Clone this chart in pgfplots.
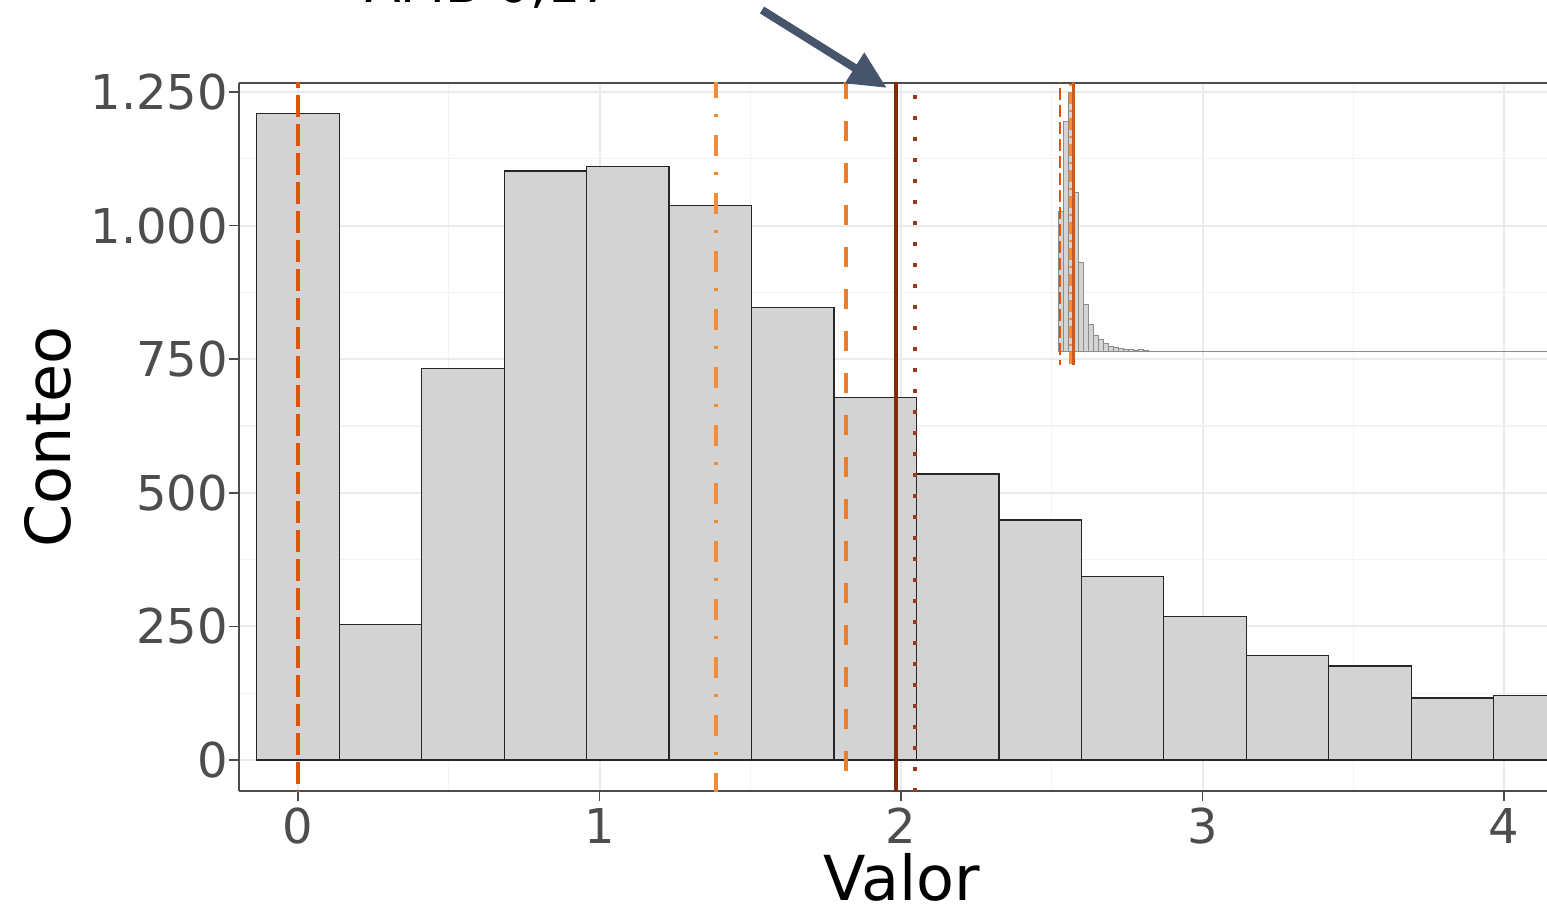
\documentclass[border=0pt]{standalone}
\usepackage{pgfplots}
\pgfplotsset{compat=1.18}
\usepackage{fontspec}
\setmainfont{DejaVu Sans}
\usetikzlibrary{arrows.meta}

\definecolor{barfill}{HTML}{D3D3D3}
\definecolor{ticktext}{HTML}{4D4D4D}
\definecolor{gridmaj}{HTML}{EBEBEB}
\definecolor{gridmin}{HTML}{F3F3F3}
\definecolor{lzero}{HTML}{DD540F}
\definecolor{ldotdash}{HTML}{F28C38}
\definecolor{ldash}{HTML}{EE7D2A}
\definecolor{lsolid}{HTML}{86290A}
\definecolor{ldot}{HTML}{99391C}
\definecolor{arrowcol}{HTML}{46556B}
\definecolor{insetline}{HTML}{D0581A}

% histogram of the values (left bin edges, counts)
\pgfplotstableread{
x        y
-0.1368  1209
0.1367   254
0.4102   732
0.6837   1102
0.9572   1111
1.2307   1038
1.5042   846
1.7777   679
2.0512   535
2.3247   449
2.5982   344
2.8717   269
3.1452   195
3.4187   176
3.6922   116
3.9657   120
4.2392   120
}\histdata

% small overview histogram of the full range (local units)
\pgfplotstableread{
x   y
0   140
5   230
10  259
15  159
20  89
25  47
30  27
35  16
40  12
45  8
50  5
55  4
60  3.3
65  2.7
70  2.3
75  1.7
80  2.3
85  1
90  0.8
95  0.6
100 0.5
105 0.6
110 0.4
115 0.3
120 0.3
125 0.2
130 0.4
135 0.2
140 0.3
145 0.2
150 0
155 0.3
160 0.2
165 0
170 0.3
175 0
180 0.2
185 0.3
190 0
195 0.2
200 0
205 0.2
210 0
215 0.2
220 0
225 0
230 0.2
235 0
240 0
245 0.2
250 0
255 0
260 0
265 0
270 0.2
275 0
280 0
285 0
290 0
295 0
300 0
305 0
310 0
315 0
320 0
325 0
330 0
335 0
340 0
345 0
350 0
355 0
360 0
365 0
370 0
375 0
380 0
385 0.3
390 0
395 0
400 0
405 0
410 0
415 0
420 0
425 0
430 0
435 0
440 0
445 0.3
450 0.3
455 0
460 0
465 0
470 0.2
475 0.3
480 0.2
485 0
490 0
}\insetdata

\begin{document}
\begin{tikzpicture}
\begin{axis}[
  name=ax,
  scale only axis,
  width=654pt, height=354pt,
  xmin=-0.1957, xmax=4.1426,
  ymin=-58, ymax=1266.8,
  axis x line*=box, axis y line*=left,
  axis line style={draw=black!70, line width=0.8pt},
  xtick={0,1,2,3,4},
  ytick={0,250,500,750,1000,1250},
  yticklabels={0,250,500,750,1.000,1.250},
  minor xtick={0.5,1.5,2.5,3.5},
  minor ytick={125,375,625,875,1125},
  grid=both,
  major grid style={draw=gridmaj, line width=1pt},
  minor grid style={draw=gridmin, line width=0.6pt},
  tick align=outside,
  xtick pos=bottom, ytick pos=left,
  major tick length=5pt, minor tick length=0pt,
  tick style={draw=black!70, line width=0.8pt},
  tick label style={font=\fontsize{24}{28}\selectfont, text=ticktext},
  yticklabel style={xshift=3pt},
  /pgf/number format/assume math mode=true,
  xlabel={Valor}, ylabel={Conteo},
  label style={font=\fontsize{31}{36}\selectfont, text=black},
  xlabel style={at={(axis description cs:0.5065,-0.154)}, anchor=base},
  ylabel style={at={(axis description cs:-0.1292,0.5)}, anchor=base},
]
\addplot[ybar interval, fill=barfill, draw=black!85, line width=0.6pt]
  table[x=x, y=y] {\histdata};

% reference lines
\addplot[lzero, line width=2.4pt, dash pattern=on 11pt off 3.5pt]
  coordinates {(0,-100) (0,1400)};
\addplot[ldotdash, line width=2pt, dash pattern=on 1.5pt off 8pt on 10.5pt off 9pt]
  coordinates {(1.386,-100) (1.386,1400)};
\addplot[ldash, line width=2pt, dash pattern=on 10pt off 11pt]
  coordinates {(1.817,-100) (1.817,1400)};
\addplot[lsolid, line width=2pt]
  coordinates {(1.982,-100) (1.982,1400)};
\addplot[ldot, line width=2pt, dash pattern=on 2pt off 8.5pt]
  coordinates {(2.046,-100) (2.046,1400)};

\coordinate (tail) at (axis cs:1.539,1403.4);
\coordinate (tip) at (axis cs:1.953,1257.5);
\end{axis}

% overview of the whole distribution
\begin{axis}[
  at={(409.5pt,213pt)}, anchor=south west,
  scale only axis,
  width=245pt, height=141pt,
  xmin=0, xmax=490, ymin=-13.3, ymax=268.7,
  hide axis,
]
\addplot[ybar interval, fill=black!17, draw=black!45, line width=0.3pt]
  table[x=x, y=y] {\insetdata};
\addplot[lzero, line width=1.4pt, dash pattern=on 6pt off 2.5pt]
  coordinates {(2,-20) (2,300)};
\addplot[ldotdash, line width=1.2pt, dash pattern=on 1pt off 3pt on 6pt off 3pt]
  coordinates {(12.5,-20) (12.5,300)};
\addplot[insetline, line width=1.4pt]
  coordinates {(15.5,-20) (15.5,300)};
\end{axis}

\draw[arrowcol, line width=4pt, -{Triangle[length=19pt, width=17pt]}] (tail) -- (tip);

\node[anchor=base west, font=\fontsize{26}{30}\selectfont, text=black]
  at ([shift={(59.5pt,40.3pt)}]ax.north west) {AMB 0,17};

\pgfresetboundingbox
\path ([shift={(-119.5pt,-57pt)}]ax.south west) rectangle ([shift={(0pt,41.5pt)}]ax.north east);
\end{tikzpicture}
\end{document}
